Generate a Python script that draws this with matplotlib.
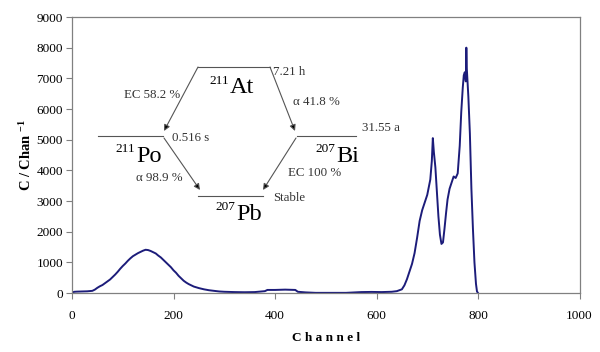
import matplotlib
matplotlib.use("Agg")
import matplotlib.pyplot as plt

plt.rcParams['font.family'] = ['Liberation Serif', 'DejaVu Serif']
plt.rcParams['mathtext.fontset'] = 'custom'
plt.rcParams['mathtext.rm'] = 'Liberation Serif'
plt.rcParams['mathtext.bf'] = 'Liberation Serif:bold'
plt.rcParams['mathtext.it'] = 'Liberation Serif:italic'

# spectrum (channel, counts per channel)
channel = [0, 5, 10, 20, 30, 40, 45, 50, 55, 60, 65, 70, 75, 80, 85, 90, 95,
           100, 105, 110, 115, 120, 125, 130, 135, 140, 145, 150, 155, 160,
           165, 170, 175, 180, 185, 190, 195, 200, 205, 210, 215, 220, 225,
           230, 240, 250, 260, 270, 280, 290, 300, 320, 340, 360, 380, 385,
           400, 420, 440, 445, 460, 480, 500, 540, 570, 590, 610, 630, 640,
           650, 655, 660, 665, 670, 675, 680, 685, 690, 695, 700, 703, 706,
           709, 711, 713, 716, 719, 722, 725, 728, 731, 734, 737, 740, 744,
           748, 752, 756, 760, 764, 767, 770, 772, 774, 776, 777, 778, 779,
           781, 784, 787, 790, 793, 796, 798, 800]
counts = [20, 40, 45, 50, 55, 70, 110, 170, 220, 260, 320, 380, 440, 520, 600,
          690, 790, 880, 960, 1050, 1130, 1200, 1250, 1300, 1340, 1380, 1410,
          1400, 1370, 1330, 1290, 1220, 1160, 1080, 1000, 920, 840, 740, 660,
          560, 480, 400, 340, 290, 210, 160, 120, 90, 70, 50, 40, 30, 25, 30,
          60, 100, 100, 110, 100, 40, 20, 5, 5, 5, 30, 35, 30, 40, 60, 120,
          250, 450, 700, 950, 1300, 1800, 2350, 2700, 2950, 3200, 3450, 3700,
          4300, 5050, 4600, 4100, 3300, 2500, 1900, 1600, 1650, 2100, 2600,
          3050, 3400, 3600, 3800, 3750, 3900, 4800, 5900, 6700, 7100, 7200,
          6900, 8000, 7300, 7000, 6400, 5200, 3400, 2100, 1000, 300, 50, 0]

x_ticks = [0, 200, 400, 600, 800, 1000]
y_ticks = list(range(0, 9001, 1000))

fig = plt.figure(figsize=(6, 3.52), dpi=100)
ax = fig.add_axes([72 / 600, 59 / 352, 507.5 / 600, 276 / 352])
ax.plot(channel, counts, color='#1c1c7a', linewidth=1.4)
ax.set_xlim(0, 1000)
ax.set_ylim(0, 9000)
ax.set_xticks(x_ticks)
ax.set_yticks(y_ticks)
for s in ax.spines.values():
    s.set_color('#808080')
    s.set_linewidth(0.9)
ax.tick_params(direction='out', length=4, color='#808080', labelsize=9.5)
ax.tick_params(axis='x', pad=8.5)
ax.tick_params(axis='y', pad=2.5)
ax.set_xlabel('C h a n n e l', fontsize=9.5, fontweight='bold', labelpad=7)
ax.set_ylabel(r'C / Chan $^{\mathbf{-1}}$', fontsize=10.5, fontweight='bold',
              labelpad=2)

# decay scheme overlay, drawn in pixel coordinates
ov = fig.add_axes([0, 0, 1, 1], facecolor='none')
ov.set_xlim(0, 600)
ov.set_ylim(352, 0)
ov.axis('off')

lc = '#555555'
levels = [(198, 270, 67), (98, 163, 136), (297, 356, 136), (198, 263, 196)]
for x0, x1, y in levels:
    ov.plot([x0, x1], [y, y], color=lc, linewidth=0.8)

arrows = [((198, 67), (164, 131)), ((270, 67), (295, 131)),
          ((164, 138), (200, 190)), ((296, 138), (263, 190))]
for (xa, ya), (xb, yb) in arrows:
    ov.annotate('', xy=(xb, yb), xytext=(xa, ya),
                arrowprops=dict(arrowstyle='-|>', color=lc, lw=0.8,
                                mutation_scale=9, shrinkA=0, shrinkB=0,
                                fc='black', ec=lc))

small = dict(fontsize=9.3, color='#333333', va='center')
ov.text(273, 72, '7.21 h', ha='left', **small)
ov.text(180, 95, 'EC 58.2 %', ha='right', **small)
ov.text(293, 102, 'α 41.8 %', ha='left', **small)
ov.text(172, 138, '0.516 s', ha='left', **small)
ov.text(362, 128, '31.55 a', ha='left', **small)
ov.text(183, 178, 'α 98.9 %', ha='right', **small)
ov.text(288, 173, 'EC 100 %', ha='left', **small)
ov.text(273, 198, 'Stable', ha='left', **small)

# (split x, baseline y, mass number, symbol)
nuclides = [(230, 93, '211', 'At'), (136, 162, '211', 'Po'),
            (336, 162, '207', 'Bi'), (236, 220, '207', 'Pb')]
for x, y, mass, sym in nuclides:
    ov.text(x - 1, y - 9.5, mass, ha='right', va='baseline', fontsize=9.5,
            color='black')
    ov.text(x, y, sym, ha='left', va='baseline', fontsize=17.5, color='black')

fig.savefig('out.png', dpi=100)
